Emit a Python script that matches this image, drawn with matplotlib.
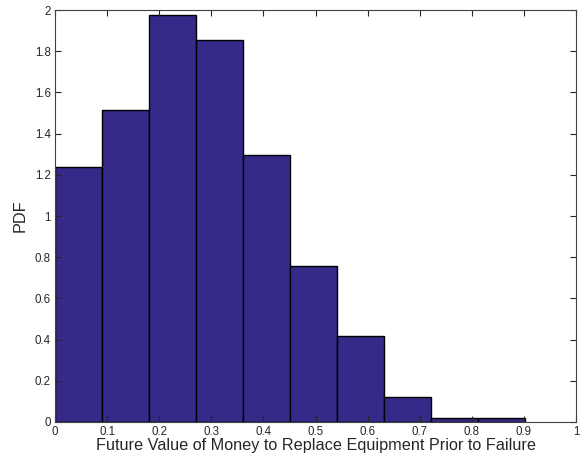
import matplotlib.pyplot as plt
import numpy as np
from matplotlib.ticker import FuncFormatter

plt.rcParams['font.family'] = ['Liberation Sans', 'DejaVu Sans']

# histogram bins (left edges) and PDF heights
bin_width = 0.0902
bin_lefts = np.arange(10) * bin_width
pdf_values = [1.238, 1.516, 1.974, 1.854, 1.296, 0.759, 0.419, 0.120, 0.021, 0.021]

x_ticks = np.arange(0, 1.01, 0.1)
y_ticks = np.arange(0, 2.01, 0.2)

fig = plt.figure(figsize=(5.81, 4.57), dpi=100)
ax = fig.add_axes([0.0947, 0.0766, 0.8967, 0.9014])

ax.bar(bin_lefts, pdf_values, width=bin_width, align='edge',
       color='#352a87', edgecolor='black', linewidth=1.0)

ax.set_xlim(0, 1)
ax.set_ylim(0, 2)
ax.set_xticks(x_ticks)
ax.set_yticks(y_ticks)
fmt = FuncFormatter(lambda v, p: ('%g' % round(v, 2)))
ax.xaxis.set_major_formatter(fmt)
ax.yaxis.set_major_formatter(fmt)

ax.tick_params(direction='in', length=4, width=0.8, labelsize=8.3,
               top=True, right=True, colors='#262626', pad=3)
for s in ax.spines.values():
    s.set_color('#404040')
    s.set_linewidth(0.8)

ax.set_xlabel('Future Value of Money to Replace Equipment Prior to Failure',
              fontsize=11.7, color='#262626', labelpad=0)
ax.set_ylabel('PDF', fontsize=11.7, color='#262626', labelpad=5)

fig.savefig('out.png', dpi=100)
